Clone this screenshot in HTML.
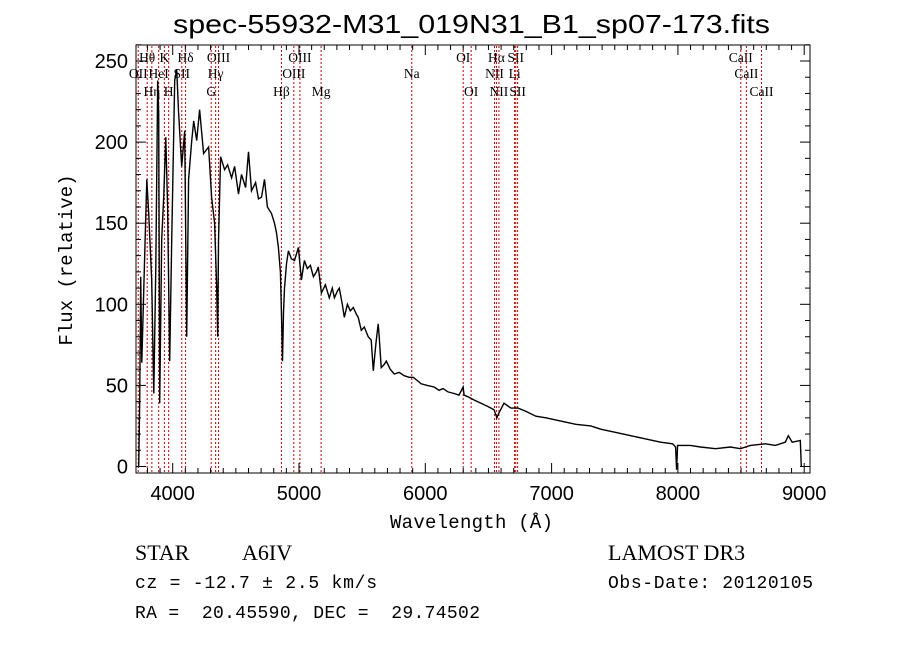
<!DOCTYPE html>
<html><head><meta charset="utf-8"><style>
body{margin:0;background:#fff;}
svg{display:block;}
.t{font-family:"Liberation Sans",sans-serif;font-size:20px;fill:#000;}
.m{font-family:"Liberation Mono",monospace;fill:#000;white-space:pre;}
.s{font-family:"Liberation Serif",serif;fill:#000;}
</style></head><body>
<svg id="chart" width="900" height="649" viewBox="0 0 900 649">
<rect width="900" height="649" fill="#fff"/>
<text class="t" x="173" y="33" textLength="597" lengthAdjust="spacingAndGlyphs" style="font-size:26px">spec-55932-M31_019N31_B1_sp07-173.fits</text>
<g id="lines"></g>
<g id="spec"></g>
<rect x="136" y="45" width="674" height="428" fill="none" stroke="#000" stroke-width="1"/>
<g id="axes"></g>
<text class="m" x="390" y="528" textLength="163" style="font-size:19px">Wavelength (Å)</text>
<text class="m" transform="translate(72,260) rotate(-90)" text-anchor="middle" style="font-size:19px">Flux (relative)</text>
<text class="s" x="135" y="560" style="font-size:22px">STAR</text>
<text class="s" x="242" y="560" style="font-size:22px">A6IV</text>
<text class="s" x="608" y="560" style="font-size:22px">LAMOST DR3</text>
<text class="m" x="135" y="588" textLength="242" style="font-size:18px">cz = -12.7 ± 2.5 km/s</text>
<text class="m" x="608" y="588" textLength="205" style="font-size:18px">Obs-Date: 20120105</text>
<text class="m" x="135" y="618" textLength="345" style="font-size:18px">RA =  20.45590, DEC =  29.74502</text>
</svg>
<script>
const waves=[3724,3731,3739,3747,3755,3771,3795,3810,3834,3850,3866,3881,3889,3897,3913,3929,3945,3960,3976,3992,4016,4032,4047,4071,4095,4111,4126,4150,4166,4190,4213,4245,4284,4308,4332,4348,4356,4363,4379,4411,4435,4466,4490,4521,4545,4577,4600,4624,4656,4679,4703,4727,4750,4782,4806,4822,4837,4853,4861,4869,4877,4885,4901,4916,4940,4964,4995,5019,5043,5066,5090,5114,5138,5153,5177,5209,5240,5264,5280,5303,5319,5343,5359,5383,5406,5430,5454,5469,5493,5517,5548,5572,5588,5604,5612,5627,5635,5651,5675,5691,5722,5754,5793,5833,5872,5904,5936,5967,6015,6070,6109,6141,6180,6228,6267,6299,6307,6338,6386,6441,6496,6544,6567,6583,6623,6678,6733,6797,6876,6955,7073,7192,7310,7389,7508,7626,7745,7863,7958,7982,7990,7998,8100,8179,8298,8416,8495,8574,8693,8771,8850,8874,8905,8969,8977];
const flux=[0,0,40,117,64,110,177,156,115,45,123,238,218,39,140,166,203,160,65,139,238,245,218,185,207,80,177,200,213,201,220,193,197,166,150,110,80,139,191,183,186,178,185,168,180,172,194,170,175,165,166,177,160,156,150,144,135,120,96,65,95,110,125,133,128,127,135,115,127,122,124,117,120,123,107,112,104,110,104,108,110,100,92,100,96,98,94,92,84,86,80,78,59,72,78,88,80,61,63,65,60,57,58,56,55,55,53,51,50,49,47,48,46,45,44,49,44,43,41,39,37,35,30,33,39,36,36,34,31,30,28,26,25,23,21,19,17,15,14,12,-2,13,13,12,11,12,11,13,14,13,15,19,15,16,0];
const lineWaves=[3727,3798,3835,3889,3934,3968,4072,4102,4305,4340,4363,4861,4959,5007,5175,5893,6300,6363,6548,6563,6583,6707,6716,6731,8498,8542,8662];
const lineNames=["OII","Hθ","Hη","HeI","K","H","SII","Hδ","G","Hγ","OIII","Hβ","OIII","OIII","Mg","Na","OI","OI","NII","Hα","NII","Li","SII","SII","CaII","CaII","CaII"];
const lineRows=[1,0,2,1,0,2,1,0,2,1,0,2,1,0,2,1,0,2,1,0,2,1,0,2,0,1,2];
const xTicks=[4000,5000,6000,7000,8000,9000];
const yTicks=[0,50,100,150,200,250];
const NS='http://www.w3.org/2000/svg';
const X=w=>172.7+(w-4000)*0.1263;
const Y=f=>466.5-f*1.622;
function mk(tag,attrs,parent){const e=document.createElementNS(NS,tag);for(const k in attrs)e.setAttribute(k,attrs[k]);parent.appendChild(e);return e;}
const gl=document.getElementById('lines');
const rowY=[62,78,96];
lineWaves.forEach((w,i)=>{
  const l=mk('line',{x1:X(w),x2:X(w),y1:46,y2:472,stroke:'#c00000','stroke-width':1,'stroke-dasharray':'2,2'},gl);
  
  
  const t=mk('text',{x:X(w),y:rowY[lineRows[i]],'text-anchor':'middle',class:'s','font-size':'13.5'},gl);
  t.textContent=lineNames[i];
  
  
});
const gs=document.getElementById('spec');
let d='';
waves.forEach((w,i)=>{d+=(i?'L':'M')+X(w).toFixed(1)+','+Y(flux[i]).toFixed(1);});
const p=mk('path',{d:d,fill:'none',stroke:'#000','stroke-width':1.4,'stroke-linejoin':'miter'},gs);


const ga=document.getElementById('axes');
for(let w=3800;w<=9000;w+=100){
  const maj=w%1000===0;const len=maj?10:5;
  mk('line',{x1:X(w),x2:X(w),y1:473,y2:473-len,stroke:'#000'},ga);
  mk('line',{x1:X(w),x2:X(w),y1:45,y2:45+len,stroke:'#000'},ga);
}
for(let f=0;f<=260;f+=10){
  const maj=f%50===0;const len=maj?10:5;
  mk('line',{x1:136,x2:136+len,y1:Y(f),y2:Y(f),stroke:'#000'},ga);
  mk('line',{x1:810,x2:810-len,y1:Y(f),y2:Y(f),stroke:'#000'},ga);
}
xTicks.forEach(w=>{
  const t=mk('text',{x:X(w),y:500,'text-anchor':'middle',class:'t'},ga);
  t.textContent=w;
  
  
});
yTicks.forEach(f=>{
  const t=mk('text',{x:128,y:Y(f)+7,'text-anchor':'end',class:'t'},ga);
  t.textContent=f;
  
  
});
</script>
</body></html>
